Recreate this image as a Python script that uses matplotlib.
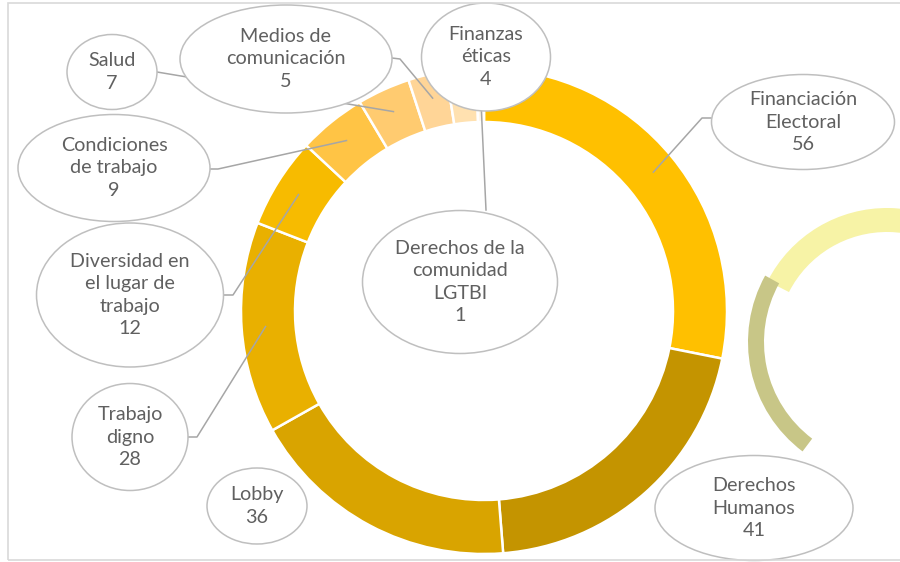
import numpy as np
import matplotlib.pyplot as plt
from matplotlib.patches import Ellipse, Wedge, Rectangle

# datos del gráfico
labels = ['Financiación\nElectoral', 'Derechos\nHumanos', 'Lobby', 'Trabajo\ndigno',
          'Diversidad en\nel lugar de\ntrabajo', 'Condiciones\nde trabajo', 'Salud',
          'Medios de\ncomunicación', 'Finanzas\néticas', 'Derechos de la\ncomunidad\nLGTBI']
values = [56, 41, 36, 28, 12, 9, 7, 5, 4, 1]
colors = ['#FFC000', '#C49400', '#D9A400', '#E9B000', '#F7BB00',
          '#FFC445', '#FFCB70', '#FFD597', '#FFE1B0', '#FFF6E8']

W, H = 900, 562
cx, cy = 484, 311          # centro del anillo (pixeles desde arriba)
r_out, r_in = 243, 189

# cajas de etiqueta: (x, y, ancho, alto) y codo de la línea guía
boxes = [(803, 122, 183, 95), (754, 508, 198, 105), (257, 506, 100, 76),
         (130, 437, 116, 107), (130, 295, 187, 144), (114, 168, 192, 107),
         (112, 72, 90, 75), (286, 59, 212, 108), (486, 57, 129, 108),
         (460, 282, 195, 143)]
elbows = [[(711, 118), (702, 118)], None, None,
          [(188, 437), (197, 437)], [(223, 295), (233, 295)],
          [(210, 169), (218, 169)], [(157, 72)],
          [(392, 58), (400, 59)], None, [(486, 210)]]

def Y(y):
    return H - y

fig = plt.figure(figsize=(9, 5.62), dpi=100)
ax = fig.add_axes([0, 0, 1, 1])

ax.pie(values, colors=colors, startangle=90, counterclock=False,
       center=(cx, Y(cy)), radius=r_out, frame=True,
       wedgeprops=dict(width=r_out - r_in, edgecolor='white', linewidth=1.8))

# arco decorativo a la derecha
ax.add_patch(Wedge((887, Y(342)), 134, 25, 153, width=24, facecolor='#F7F3A6', edgecolor='none'))
ax.add_patch(Wedge((885, Y(342)), 137, 151, 233, width=16, facecolor='#C8C687', edgecolor='none'))

# puntos de anclaje de las líneas guía (a media anchura del anillo)
cum = np.cumsum(values)
mids = (cum - np.array(values) / 2) / cum[-1] * 360
r_mid = (r_out + r_in) / 2 + 3
for i, (lab, val) in enumerate(zip(labels, values)):
    bx, by, bw, bh = boxes[i]
    if elbows[i] is not None:
        ang = np.deg2rad(90 - mids[i])
        px = cx + r_mid * np.cos(ang)
        py = Y(cy) + r_mid * np.sin(ang)
        xs = [p[0] for p in elbows[i]] + [px]
        ys = [Y(p[1]) for p in elbows[i]] + [py]
        ax.plot(xs, ys, color='#A6A6A6', lw=1.1, zorder=3)

for i, (lab, val) in enumerate(zip(labels, values)):
    bx, by, bw, bh = boxes[i]
    ax.add_patch(Ellipse((bx, Y(by)), bw, bh, facecolor='white',
                         edgecolor='#BFBFBF', lw=1.1, zorder=4))
    ax.text(bx, Y(by), f'{lab}\n{val}', ha='center', va='center',
            fontsize=14.2, color='#606060', family='Lato',
            linespacing=1.38, zorder=5)

ax.add_patch(Rectangle((8, Y(560)), 900, 557, facecolor='none',
                       edgecolor='#D9D9D9', lw=1.2, zorder=6))

ax.set_xlim(0, W)
ax.set_ylim(0, H)
ax.set_aspect('equal')
ax.axis('off')

fig.savefig('out.png', dpi=100)
